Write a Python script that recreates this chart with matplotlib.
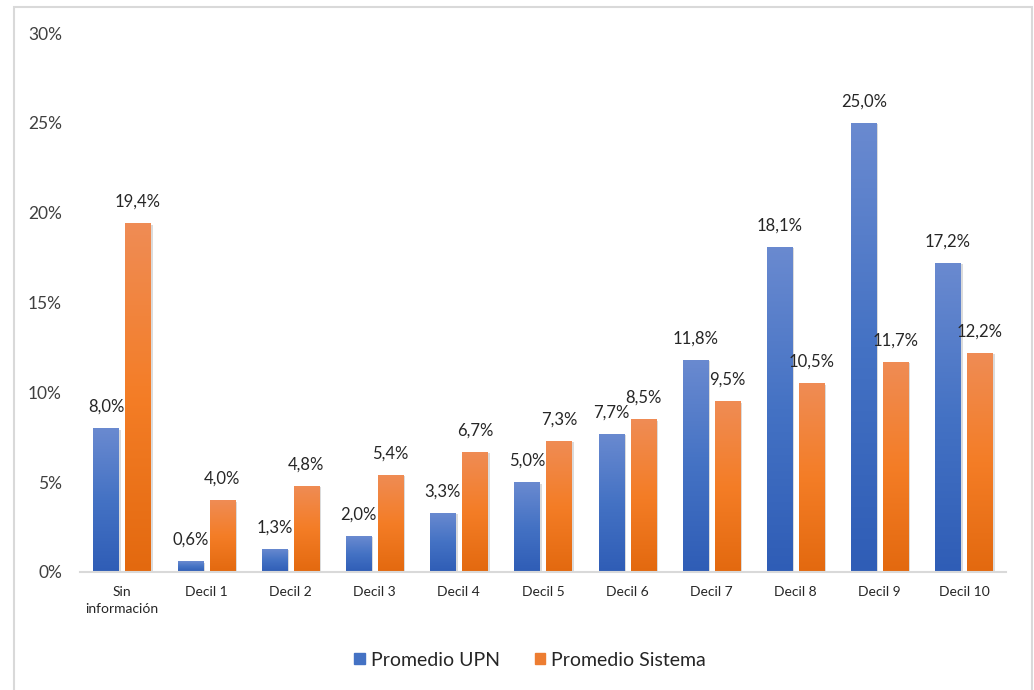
import matplotlib.pyplot as plt
import matplotlib.patheffects as pe
from matplotlib.colors import LinearSegmentedColormap
import numpy as np

plt.rcParams['font.family'] = ['Lato', 'DejaVu Sans']

categories = ["Sin\ninformación", "Decil 1", "Decil 2", "Decil 3", "Decil 4", "Decil 5",
              "Decil 6", "Decil 7", "Decil 8", "Decil 9", "Decil 10"]
upn = [8.0, 0.6, 1.3, 2.0, 3.3, 5.0, 7.7, 11.8, 18.1, 25.0, 17.2]
sistema = [19.4, 4.0, 4.8, 5.4, 6.7, 7.3, 8.5, 9.5, 10.5, 11.7, 12.2]

blue_cmap = LinearSegmentedColormap.from_list("b", ["#2f5db6", "#4472c4", "#6a8ad0"])
orange_cmap = LinearSegmentedColormap.from_list("o", ["#e3690f", "#f47d26", "#ef8c55"])

fig = plt.figure(figsize=(10.34, 6.9), dpi=100)
fig.patches.append(plt.Rectangle((14 / 1034, -0.01), (1032 - 14) / 1034, (690 - 7) / 690 + 0.01,
                                 transform=fig.transFigure, fill=False,
                                 edgecolor="#d9d9d9", linewidth=1.5))
ax = fig.add_axes([80 / 1034, (690 - 572) / 690, (1006 - 80) / 1034, (572 - 33) / 690])

x = np.arange(len(categories))
w = 0.30
off = 0.19
grad = np.linspace(0, 1, 256).reshape(-1, 1)


def draw(vals, pos, cmap, base):
    bars = ax.bar(pos, vals, w, color=base, zorder=2,
                  path_effects=[pe.SimplePatchShadow(offset=(1.5, -1), shadow_rgbFace="#999999", alpha=0.35),
                                pe.Normal()])
    for b, v in zip(bars, vals):
        im = ax.imshow(grad, cmap=cmap, aspect="auto", origin="lower", zorder=3,
                       extent=[b.get_x(), b.get_x() + b.get_width(), 0, v])
        im.set_clip_path(b)
        ax.text(b.get_x() + b.get_width() / 2, v + 0.75, f"{v:.1f}%".replace(".", ","),
                ha="center", va="bottom", fontsize=12, color="#262626", zorder=4)


draw(upn, x - off, blue_cmap, "#4472c4")
draw(sistema, x + off, orange_cmap, "#ed7d31")

ax.set_xlim(-0.5, len(categories) - 0.5)
ax.set_ylim(0, 30)
ax.set_yticks([0, 5, 10, 15, 20, 25, 30])
ax.set_yticklabels([f"{t}%" for t in [0, 5, 10, 15, 20, 25, 30]], fontsize=12.5, color="#404040")
ax.set_xticks(x)
ax.set_xticklabels(categories, fontsize=10, color="#262626", linespacing=1.5)
ax.tick_params(axis="both", length=0)
ax.tick_params(axis="y", pad=13)
ax.tick_params(axis="x", pad=10)
for s in ["top", "right", "left"]:
    ax.spines[s].set_visible(False)
ax.spines["bottom"].set_color("#d9d9d9")
ax.spines["bottom"].set_linewidth(1.5)
ax.spines["bottom"].set_zorder(5)

handles = [plt.Rectangle((0, 0), 1, 1, color="#4472c4"), plt.Rectangle((0, 0), 1, 1, color="#ed7d31")]
fig.legend(handles, ["Promedio UPN", "Promedio Sistema"], loc="center", bbox_to_anchor=(530 / 1034, 1 - 660 / 690),
           ncol=2, frameon=False, fontsize=14, handlelength=0.55, handleheight=0.55, handletextpad=0.3,
           columnspacing=1.8, labelcolor="#262626")

fig.savefig("out.png", dpi=100)
